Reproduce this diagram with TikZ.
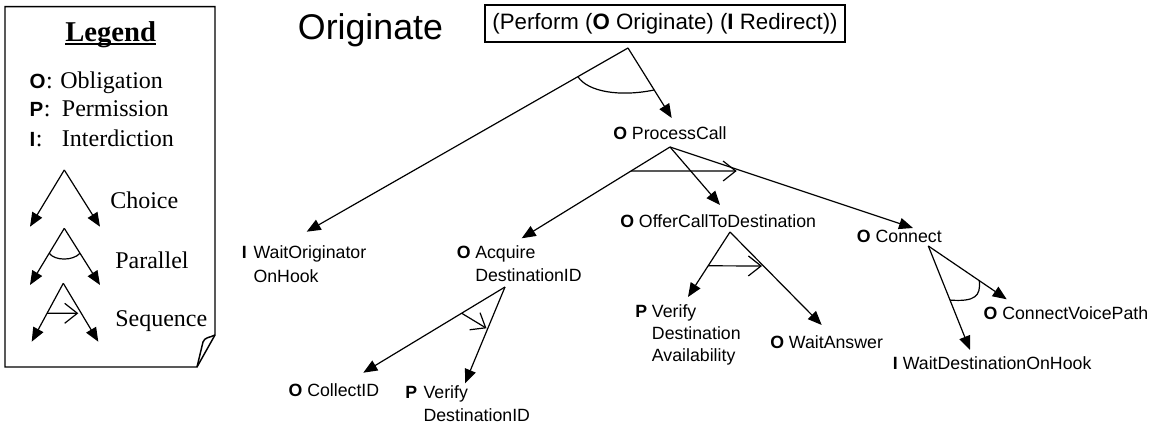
\documentclass[tikz,border=0pt]{standalone}
\usepackage{fontspec}
\setmainfont{Liberation Serif}
\newfontfamily\arialf{Liberation Sans}
\usetikzlibrary{arrows.meta,calc}
\tikzset{
  conn/.style={line width=0.9pt, -{Triangle[length=10.5pt,width=8.5pt]}},
  seqarr/.style={line width=0.9pt, -{Straight Barb[length=9.5pt,width=15pt]}},
  plainline/.style={line width=0.9pt},
  lbl/.style={anchor=base west, inner sep=0pt, font=\arialf\fontsize{13.3}{16}\selectfont},
  leg/.style={anchor=base west, inner sep=0pt, font=\fontsize{18}{21}\selectfont},
  legl/.style={anchor=base west, inner sep=0pt, font=\arialf\bfseries\fontsize{15.4}{18}\selectfont},
  legbox/.style={line width=1.1pt, line join=miter},
}
\begin{document}
\begin{tikzpicture}[x=0.75pt, y=-0.75pt]
\useasboundingbox (0,0) rectangle (1161,423);

% ---------- Legend ----------
\draw[legbox] (215,335) -- (215,6.7) -- (5,6.7) -- (5,367) -- (197,367) -- cycle;
\draw[legbox] (215,335) .. controls (209,338) and (205,337) .. (203,342) -- (197,367);
\node[anchor=base west, inner sep=0pt, font=\bfseries\fontsize{21.5}{24}\selectfont] (legtitle) at (65,41.7) {Legend};
\draw[line width=1.6pt] ([yshift=-1.6pt]legtitle.base west) -- ([yshift=-1.6pt]legtitle.base east);

\node[legl] (lo) at (29.3,88.3) {O};
\node[leg] (loc) at (lo.base east) {:};
\node[leg] (lob) at (60,88.3) {Obligation};
\node[legl] (lp) at (29.3,116.7) {P};
\node[leg] (lpc) at (lp.base east) {:};
\node[leg] (lpe) at (61.7,116.7) {Permission};
\node[legl] (li) at (29.3,146.7) {I};
\node[leg] (lic) at (li.base east) {:};
\node[leg] (lin) at (61.7,146.7) {Interdiction};

\coordinate (chA) at (64.3,170);
\coordinate (chL) at (30,226.7);
\coordinate (chR) at (100,226.7);
\draw[conn] (chA) -- (chL);
\draw[conn] (chA) -- (chR);
\node[leg] (lch) at (110,208.5) {Choice};

\coordinate (paA) at (64.3,228.3);
\coordinate (paL) at (30,285);
\coordinate (paR) at (100,285);
\draw[conn] (paA) -- (paL);
\draw[conn] (paA) -- (paR);
\draw[plainline] ($(paA)!0.44!(paL)$) .. controls (55,261) and (73,261) .. ($(paA)!0.44!(paR)$);
\node[leg] (lpa) at (115,268.3) {Parallel};

\coordinate (sqA) at (63.3,283.3);
\coordinate (sqL) at (31.7,341.7);
\coordinate (sqR) at (98.3,341.7);
\draw[conn] (sqA) -- (sqL);
\draw[conn] (sqA) -- (sqR);
\coordinate (sqT) at (78.3,313.3);
\draw[seqarr] ($(sqA)!0.514!(sqL)$) -- (sqT);
\node[leg] (lsq) at (115,327) {Sequence};

% ---------- Title ----------
\node[anchor=base west, inner sep=0pt, font=\arialf\fontsize{26.8}{30}\selectfont] (title) at (297.7,39.3) {Originate};
\node[draw, line width=1pt, inner sep=0pt, minimum width=270pt, minimum height=27.75pt,
      font=\arialf\fontsize{16.7}{19}\selectfont] (perform) at (665,23.5)
      {(Perform (\textbf{O} Originate) (\textbf{I} Redirect))};

% ---------- Labels ----------
\node[lbl] (pc) at (613,140) {\textbf{O} ProcessCall};
\node[lbl] (woL) at (241.7,259) {\textbf{I}};
\node[lbl] (wo) at (253.3,259) {WaitOriginator};
\node[lbl] (wo2) at (253.3,282.5) {OnHook};
\node[lbl] (acqL) at (456.7,259) {\textbf{O}};
\node[lbl] (acq) at (475,259) {Acquire};
\node[lbl] (acq2) at (475,281.5) {DestinationID};
\node[lbl] (of) at (620,228) {\textbf{O} OfferCallToDestination};
\node[lbl] (co) at (856.7,242.5) {\textbf{O} Connect};
\node[lbl] (ci) at (288.3,397) {\textbf{O} CollectID};
\node[lbl] (vdL) at (405,398.7) {\textbf{P}};
\node[lbl] (vd) at (423.3,398.7) {Verify};
\node[lbl] (vd2) at (423.3,421.3) {DestinationID};
\node[lbl] (pvL) at (635,318) {\textbf{P}};
\node[lbl] (pv) at (651.7,318) {Verify};
\node[lbl] (pv2) at (651.7,339.5) {Destination};
\node[lbl] (pv3) at (651.7,361.5) {Availability};
\node[lbl] (wa) at (770,349) {\textbf{O} WaitAnswer};
\node[lbl] (cv) at (983.3,319.7) {\textbf{O} ConnectVoicePath};
\node[lbl] (wd) at (892.7,369.7) {\textbf{I} WaitDestinationOnHook};

% ---------- Fan points and arrow tips ----------
\coordinate (r0) at (628,48);
\coordinate (woT) at (306.7,231.7);
\coordinate (pcT) at (671.7,118);
\coordinate (pcF) at (670,147);
\coordinate (acqT) at (521.7,238.3);
\coordinate (ofT) at (720,205);
\coordinate (coT) at (913,228);
\coordinate (ofF) at (730,232);
\coordinate (pvT) at (688,297);
\coordinate (waT) at (821.7,325);
\coordinate (acqF) at (505,287);
\coordinate (ciT) at (363.3,372.7);
\coordinate (vdT) at (465,383.3);
\coordinate (coF) at (928.3,246);
\coordinate (wdT) at (970,350);
\coordinate (cvT) at (1006.7,299.3);

% root: parallel
\draw[conn] (r0) -- (woT);
\draw[conn] (r0) -- (pcT);
\draw[plainline] ($(r0)!0.156!(woT)$) .. controls (588,92) and (620,97) .. ($(r0)!0.6!(pcT)$);

% ProcessCall: sequence
\draw[conn] (pcF) -- (acqT);
\draw[conn] (pcF) -- (ofT);
\draw[conn] (pcF) -- (coT);
\coordinate (pcS) at (736.7,171);
\draw[seqarr] ($(pcF)!0.264!(acqT)$) -- (pcS);

% OfferCallToDestination: sequence
\draw[conn] (ofF) -- (pvT);
\draw[conn] (ofF) -- (waT);
\coordinate (ofS) at (762,266);
\draw[seqarr] ($(ofF)!0.52!(pvT)$) -- (ofS);

% Acquire DestinationID: sequence
\draw[conn] (acqF) -- (ciT);
\draw[conn] (acqF) -- (vdT);
\coordinate (acqS) at (486.5,328.3);
\draw[seqarr] ($(acqF)!0.306!(ciT)$) -- (acqS);

% Connect: parallel
\draw[conn] (coF) -- (wdT);
\draw[conn] (coF) -- (cvT);
\draw[plainline] ($(coF)!0.52!(wdT)$) .. controls (975,302) and (981,296) .. ($(coF)!0.65!(cvT)$);
\end{tikzpicture}
\end{document}
